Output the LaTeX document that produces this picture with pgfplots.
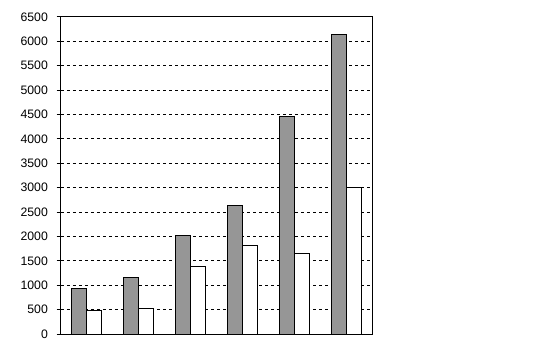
\documentclass[border=0pt]{standalone}
\usepackage{pgfplots}
\pgfplotsset{compat=1.18}
\usepackage{fontspec}
\setmainfont{Liberation Sans}
\definecolor{barGray}{RGB}{150,150,150}
\begin{document}
\begin{tikzpicture}
\path[use as bounding box] (-45.75pt,-20.25pt) rectangle (369.75pt,250.5pt);
\begin{axis}[
  at={(0pt,0pt)}, anchor=south west,
  scale only axis, width=233.25pt, height=237.75pt,
  xmin=0.5, xmax=6.5, ymin=0, ymax=6500,
  xtick=\empty,
  ytick={0,500,...,6500},
  ytick pos=left, tick align=outside, major tick length=3.3pt,
  tick style={black, line width=0.75pt},
  axis line style={black, line width=0.75pt},
  ymajorgrids,
  major grid style={black, line width=0.75pt, dash pattern=on 2.25pt off 2.25pt},
  /pgf/number format/assume math mode=true,
  /pgf/number format/1000 sep={},
  yticklabel style={font=\fontsize{9.2pt}{11pt}\selectfont, xshift=-3pt},
  ybar=0pt, bar width=11.25pt,
]
\addplot[draw=black, line width=0.75pt, fill=barGray] coordinates {
 (1,923) (2,1163) (3,2024) (4,2639) (5,4470) (6,6131)};
\addplot[draw=black, line width=0.75pt, fill=white] coordinates {
 (1,488) (2,513) (3,1388) (4,1818) (5,1655) (6,2995)};
\end{axis}
\end{tikzpicture}
\end{document}
